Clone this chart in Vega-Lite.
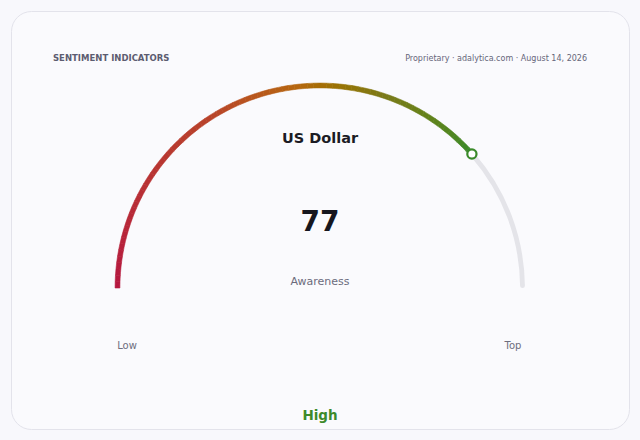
{
  "$schema": "https://vega.github.io/schema/vega-lite/v6.json",
  "description": "Sentiment gauge: US Dollar awareness",
  "width": 618,
  "height": 418,
  "padding": 11,
  "autosize": "none",
  "background": "#f8f8fc",
  "config": {
    "font": "DejaVu Sans",
    "view": {"fill": "#fafafd", "stroke": "#e3e3eb", "strokeWidth": 1, "cornerRadius": 20}
  },
  "datasets": {
    "gauge": [
      {"source": "Proprietary · adalytica.com · August 14, 2026", "section": "SENTIMENT INDICATORS", "title": "US Dollar", "value": 77, "metric": "Awareness", "band": "High", "low": "Low", "high": "Top"}
    ],
    "segments": [
      {"from": 0, "to": 1}, {"from": 1, "to": 2}, {"from": 2, "to": 3}, {"from": 3, "to": 4},
      {"from": 4, "to": 5}, {"from": 5, "to": 6}, {"from": 6, "to": 7}, {"from": 7, "to": 8},
      {"from": 8, "to": 9}, {"from": 9, "to": 10}, {"from": 10, "to": 11}, {"from": 11, "to": 12},
      {"from": 12, "to": 13}, {"from": 13, "to": 14}, {"from": 14, "to": 15}, {"from": 15, "to": 16},
      {"from": 16, "to": 17}, {"from": 17, "to": 18}, {"from": 18, "to": 19}, {"from": 19, "to": 20},
      {"from": 20, "to": 21}, {"from": 21, "to": 22}, {"from": 22, "to": 23}, {"from": 23, "to": 24},
      {"from": 24, "to": 25}, {"from": 25, "to": 26}, {"from": 26, "to": 27}, {"from": 27, "to": 28},
      {"from": 28, "to": 29}, {"from": 29, "to": 30}, {"from": 30, "to": 31}, {"from": 31, "to": 32},
      {"from": 32, "to": 33}, {"from": 33, "to": 34}, {"from": 34, "to": 35}, {"from": 35, "to": 36},
      {"from": 36, "to": 37}, {"from": 37, "to": 38}, {"from": 38, "to": 39}, {"from": 39, "to": 40},
      {"from": 40, "to": 41}, {"from": 41, "to": 42}, {"from": 42, "to": 43}, {"from": 43, "to": 44},
      {"from": 44, "to": 45}, {"from": 45, "to": 46}, {"from": 46, "to": 47}, {"from": 47, "to": 48},
      {"from": 48, "to": 49}, {"from": 49, "to": 50}, {"from": 50, "to": 51}, {"from": 51, "to": 52},
      {"from": 52, "to": 53}, {"from": 53, "to": 54}, {"from": 54, "to": 55}, {"from": 55, "to": 56},
      {"from": 56, "to": 57}, {"from": 57, "to": 58}, {"from": 58, "to": 59}, {"from": 59, "to": 60},
      {"from": 60, "to": 61}, {"from": 61, "to": 62}, {"from": 62, "to": 63}, {"from": 63, "to": 64},
      {"from": 64, "to": 65}, {"from": 65, "to": 66}, {"from": 66, "to": 67}, {"from": 67, "to": 68},
      {"from": 68, "to": 69}, {"from": 69, "to": 70}, {"from": 70, "to": 71}, {"from": 71, "to": 72},
      {"from": 72, "to": 73}, {"from": 73, "to": 74}, {"from": 74, "to": 75}, {"from": 75, "to": 76},
      {"from": 76, "to": 77}
    ]
  },
  "layer": [
    {
      "data": {"name": "gauge"},
      "mark": {"type": "arc", "innerRadius": 200.1, "outerRadius": 204.9, "fill": "#e4e4e9", "cornerRadius": 2.4},
      "encoding": {
        "x": {"datum": 0, "type": "quantitative", "scale": {"domain": [-1.5259, 1.5259], "nice": false, "zero": false}, "axis": null},
        "y": {"datum": 0, "type": "quantitative", "scale": {"domain": [-0.6963, 1.3679], "nice": false, "zero": false}, "axis": null},
        "theta": {"field": "value", "type": "quantitative", "scale": {"type": "linear", "domain": [0, 100], "range": [-1.5708, 1.5708]}},
        "theta2": {"datum": 100}
      }
    },
    {
      "data": {"name": "segments"},
      "mark": {"type": "arc", "innerRadius": 200.1, "outerRadius": 204.9, "strokeWidth": 0.6},
      "encoding": {
        "x": {"datum": 0, "type": "quantitative"},
        "y": {"datum": 0, "type": "quantitative"},
        "theta": {"field": "from", "type": "quantitative", "scale": {"type": "linear", "domain": [0, 100], "range": [-1.5708, 1.5708]}},
        "theta2": {"field": "to"},
        "color": {"field": "from", "type": "quantitative", "legend": null,
          "scale": {"domain": [0, 31, 46, 60, 76], "range": ["#b5173f", "#b8422a", "#b5660f", "#7a7a1a", "#3a8a2a"]}},
        "stroke": {"field": "from", "type": "quantitative", "legend": null,
          "scale": {"domain": [0, 31, 46, 60, 76], "range": ["#b5173f", "#b8422a", "#b5660f", "#7a7a1a", "#3a8a2a"]}}
      }
    },
    {
      "data": {"name": "gauge"},
      "transform": [
        {"calculate": "-cos(datum.value / 100 * PI)", "as": "px"},
        {"calculate": "sin(datum.value / 100 * PI)", "as": "py"}
      ],
      "mark": {"type": "point", "shape": "circle", "filled": true, "fill": "#ffffff", "stroke": "#3a8a2a", "strokeWidth": 2.2, "size": 85, "opacity": 1},
      "encoding": {
        "x": {"field": "px", "type": "quantitative"},
        "y": {"field": "py", "type": "quantitative"}
      }
    },
    {
      "data": {"name": "gauge"},
      "mark": {"type": "text", "align": "left", "baseline": "alphabetic", "fontSize": 8.5, "fontWeight": "bold", "color": "#5c5c70"},
      "encoding": {
        "x": {"datum": -1.3185, "type": "quantitative"},
        "y": {"datum": 1.121, "type": "quantitative"},
        "text": {"field": "section"}
      }
    },
    {
      "data": {"name": "gauge"},
      "mark": {"type": "text", "align": "right", "baseline": "alphabetic", "fontSize": 8, "color": "#66667a"},
      "encoding": {
        "x": {"datum": 1.3185, "type": "quantitative"},
        "y": {"datum": 1.121, "type": "quantitative"},
        "text": {"field": "source"}
      }
    },
    {
      "data": {"name": "gauge"},
      "mark": {"type": "text", "align": "center", "baseline": "alphabetic", "fontSize": 14.5, "fontWeight": "bold", "color": "#1b1b24"},
      "encoding": {
        "x": {"datum": 0, "type": "quantitative"},
        "y": {"datum": 0.7175, "type": "quantitative"},
        "text": {"field": "title"}
      }
    },
    {
      "data": {"name": "gauge"},
      "mark": {"type": "text", "align": "center", "baseline": "alphabetic", "fontSize": 28, "fontWeight": "bold", "color": "#16161e"},
      "encoding": {
        "x": {"datum": 0, "type": "quantitative"},
        "y": {"datum": 0.2815, "type": "quantitative"},
        "text": {"field": "value"}
      }
    },
    {
      "data": {"name": "gauge"},
      "mark": {"type": "text", "align": "center", "baseline": "alphabetic", "fontSize": 11, "color": "#6b6b7c"},
      "encoding": {
        "x": {"datum": 0, "type": "quantitative"},
        "y": {"datum": 0.0148, "type": "quantitative"},
        "text": {"field": "metric"}
      }
    },
    {
      "data": {"name": "gauge"},
      "mark": {"type": "text", "align": "center", "baseline": "alphabetic", "fontSize": 10, "color": "#6e6e7e"},
      "encoding": {
        "x": {"datum": -0.9531, "type": "quantitative"},
        "y": {"datum": -0.3012, "type": "quantitative"},
        "text": {"field": "low"}
      }
    },
    {
      "data": {"name": "gauge"},
      "mark": {"type": "text", "align": "center", "baseline": "alphabetic", "fontSize": 10, "color": "#6e6e7e"},
      "encoding": {
        "x": {"datum": 0.9531, "type": "quantitative"},
        "y": {"datum": -0.3012, "type": "quantitative"},
        "text": {"field": "high"}
      }
    },
    {
      "data": {"name": "gauge"},
      "mark": {"type": "text", "align": "center", "baseline": "alphabetic", "fontSize": 13.5, "fontWeight": "bold", "color": "#3d8a2a"},
      "encoding": {
        "x": {"datum": 0, "type": "quantitative"},
        "y": {"datum": -0.6519, "type": "quantitative"},
        "text": {"field": "band"}
      }
    }
  ]
}
